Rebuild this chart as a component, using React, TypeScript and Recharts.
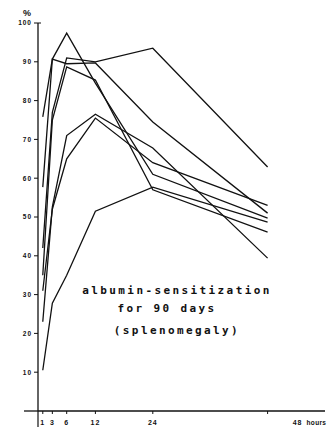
import { LineChart, Line, XAxis, YAxis } from 'recharts';

// sampling times (hours after challenge)
const hours = [1, 3, 6, 12, 24, 48];
const hourTicks = [0, 1, 3, 6, 12, 24, 48];
const pctTicks = [0, 10, 20, 30, 40, 50, 60, 70, 80, 90, 100];

// one curve per animal, %
const animal1 = [75.8, 90.7, 97.4, 84.5, 61, 49.7];
const animal2 = [57.7, 90.7, 89.5, 89.7, 74.5, 51];
const animal3 = [42, 77, 91, 90, 93.5, 62.9];
const animal4 = [35, 75, 88.7, 85.3, 57, 46.1];
const animal5 = [23, 52.6, 71, 76.5, 67.8, 39.4];
const animal6 = [31, 52, 65, 75.5, 64, 53];
const animal7 = [10.5, 27.8, 35, 51.5, 57.7, 48.7];

const series = [animal1, animal2, animal3, animal4, animal5, animal6, animal7];

const rows = hours.map((h, i) => {
  const row: Record<string, number> = { h };
  series.forEach((s, k) => {
    row['a' + k] = s[i];
  });
  return row;
});

const INK = '#111';
const TICK_FONT = 'Liberation Sans, Arial, sans-serif';

function HourTick(props: any) {
  const { x, y, payload } = props;
  const v = payload.value;
  if (v === 0) {
    // vertical axis runs on a bit below the origin
    return <line x1={x} y1={y} x2={x} y2={y + 16} stroke={INK} strokeWidth={1.2} />;
  }
  // the 48 label sits well right of its tick in the original
  const lx = v === 48 ? x + 30 : x;
  return (
    <g>
      <line x1={x} y1={y} x2={x} y2={y + 3} stroke={INK} strokeWidth={1} />
      <text x={lx} y={y + 14} textAnchor="middle" fontSize={7} fontWeight="bold" fontFamily={TICK_FONT} letterSpacing={1} fill={INK}>
        {v}
      </text>
      {v === 48 && (
        <text x={lx + 9} y={y + 14} fontSize={6.5} fontWeight="bold" fontFamily={TICK_FONT} letterSpacing={0.3} fill={INK}>
          hours
        </text>
      )}
    </g>
  );
}

function PctTick(props: any) {
  const { x, y, payload } = props;
  const v = payload.value;
  if (v === 0) {
    // x axis sticks out left of the y axis
    return <line x1={x - 14} y1={y} x2={x} y2={y} stroke={INK} strokeWidth={1.3} />;
  }
  return (
    <g>
      <line x1={x - 4} y1={y} x2={v === 100 ? x + 3 : x} y2={y} stroke={INK} strokeWidth={1} />
      <text x={x - 6} y={y + 2.3} textAnchor="end" fontSize={6.5} fontWeight="bold" fontFamily={TICK_FONT} letterSpacing={1} fill={INK}>
        {v}
      </text>
    </g>
  );
}

const NOTE_FONT = 'DejaVu Sans Mono, Liberation Mono, monospace';

export default function App() {
  return (
    <div style={{ position: 'absolute', left: 0, top: 0, width: 329, height: 428, background: '#fff' }}>
      <LineChart width={329} height={428} data={rows} margin={{ top: 23, right: 4, bottom: 0, left: 0 }}>
        <XAxis
          dataKey="h"
          type="number"
          domain={[0, 60]}
          ticks={hourTicks}
          interval={0}
          height={17}
          tickSize={0}
          tickMargin={0}
          tickLine={false}
          axisLine={{ stroke: INK, strokeWidth: 1.3 }}
          tick={<HourTick />}
        />
        <YAxis
          type="number"
          domain={[0, 100]}
          ticks={pctTicks}
          interval={0}
          width={38}
          tickSize={0}
          tickMargin={0}
          tickLine={false}
          axisLine={{ stroke: INK, strokeWidth: 1.3 }}
          tick={<PctTick />}
        />
        {series.map((_, k) => (
          <Line
            key={k}
            type="linear"
            dataKey={'a' + k}
            stroke={INK}
            strokeWidth={1.3}
            dot={false}
            activeDot={false}
            isAnimationActive={false}
          />
        ))}
      </LineChart>
      <svg
        width={329}
        height={428}
        style={{ position: 'absolute', left: 0, top: 0, pointerEvents: 'none' }}
      >
        <text x={27} y={16} textAnchor="middle" fontSize={9} fontWeight="bold" fontFamily={TICK_FONT} fill={INK}>
          %
        </text>
        <g fontFamily={NOTE_FONT} fontSize={11} fontWeight="bold" fill={INK} letterSpacing={2.4} textAnchor="middle">
          <text x={177} y={294}>albumin-sensitization</text>
          <text x={167} y={312}>for 90 days</text>
          <text x={177} y={334}>(splenomegaly)</text>
        </g>
      </svg>
    </div>
  );
}
